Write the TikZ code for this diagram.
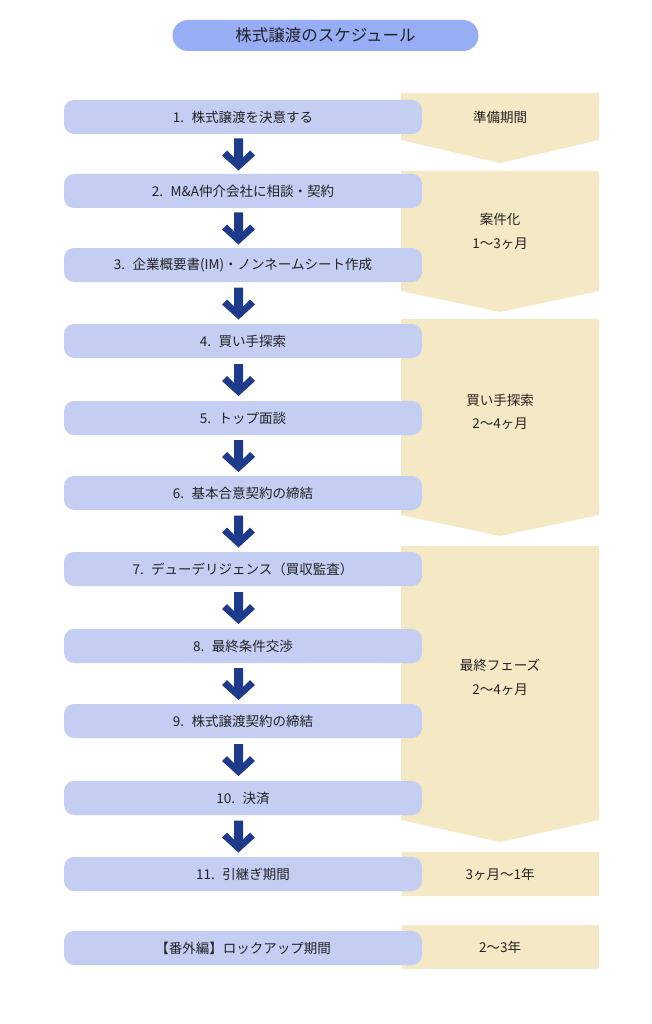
\documentclass[tikz,border=0pt]{standalone}
\usepackage{fontspec}
\setmainfont{Noto Sans CJK JP}
\usetikzlibrary{calc}
\definecolor{boxblue}{HTML}{C4CEF3}
\definecolor{titleblue}{HTML}{97ADF6}
\definecolor{phase}{HTML}{F5E8C4}
\definecolor{arrowblue}{HTML}{1E3A8A}
\definecolor{txt}{HTML}{222222}
\begin{document}
\begin{tikzpicture}[x=1pt,y=-1pt,
  stepbox/.style={fill=boxblue,rounded corners=10pt,minimum width=358pt,minimum height=34pt,inner sep=0pt,text=txt,font=\fontsize{13.5}{16}\selectfont},
  titlebox/.style={fill=titleblue,rounded corners=15.5pt,minimum width=306pt,minimum height=31pt,inner sep=0pt,text=txt,font=\fontsize{16.5}{19}\selectfont},
  phasetext/.style={text=txt,align=center,inner sep=0pt,font=\fontsize{13.5}{23.5}\selectfont},
  phasefill/.style={fill=phase},
  downarrow/.pic={\fill[arrowblue] (-4.5,-15.5) -- (4.5,-15.5) -- (4.5,3.5) -- (11.5,-3.5) -- (16.5,1.5) -- (0,16.5) -- (-16.5,1.5) -- (-11.5,-3.5) -- (-4.5,3.5) -- cycle;}
]
\useasboundingbox (0,0) rectangle (652,1024);
\fill[white] (0,0) rectangle (652,1024);

% phase shapes
\fill[phasefill] (401,93) -- (599,93) -- (599,140) -- (500,163) -- (401,140) -- cycle;
\fill[phasefill] (401,171) -- (599,171) -- (599,291) -- (500,312) -- (401,291) -- cycle;
\fill[phasefill] (401,319) -- (599,319) -- (599,515) -- (500,536) -- (401,515) -- cycle;
\fill[phasefill] (401,546) -- (599,546) -- (599,820) -- (500,842) -- (401,820) -- cycle;
\fill[phasefill] (402,852) rectangle (599,896);
\fill[phasefill] (402,925) rectangle (599,969);

\node[phasetext] (p1) at (500,117) {準備期間};
\node[phasetext] (p2) at (500,231.5) {案件化\\1〜3ヶ月};
\node[phasetext] (p3) at (500,412) {買い手探索\\2〜4ヶ月};
\node[phasetext] (p4) at (500,677.5) {最終フェーズ\\2〜4ヶ月};
\node[phasetext] (p5) at (500,874) {3ヶ月〜1年};
\node[phasetext] (p6) at (500,947) {2〜3年};

% title
\node[titlebox] (title) at (325.5,35.5) {株式譲渡のスケジュール};

% steps
\node[stepbox] (s1) at (243,117) {1.\hspace{0.55em}株式譲渡を決意する};
\node[stepbox] (s2) at (243,191) {2.\hspace{0.55em}M\&A仲介会社に相談・契約};
\node[stepbox] (s3) at (243,265) {3.\hspace{0.55em}企業概要書(IM)・ノンネームシート作成};
\node[stepbox] (s4) at (243,341) {4.\hspace{0.55em}買い手探索};
\node[stepbox] (s5) at (243,418) {5.\hspace{0.55em}トップ面談};
\node[stepbox] (s6) at (243,493) {6.\hspace{0.55em}基本合意契約の締結};
\node[stepbox] (s7) at (243,569) {7.\hspace{0.55em}デューデリジェンス（買収監査）};
\node[stepbox] (s8) at (243,646) {8.\hspace{0.55em}最終条件交渉};
\node[stepbox] (s9) at (243,721) {9.\hspace{0.55em}株式譲渡契約の締結};
\node[stepbox] (s10) at (243,798) {10.\hspace{0.55em}決済};
\node[stepbox] (s11) at (243,874) {11.\hspace{0.55em}引継ぎ期間};
\node[stepbox] (s12) at (243,948) {【番外編】ロックアップ期間};

% arrows
\foreach \a/\b in {s1/s2,s2/s3,s3/s4,s4/s5,s5/s6,s6/s7,s7/s8,s8/s9,s9/s10,s10/s11}{
  \path ($(\a.south)!0.5!(\b.north)+(-4.5,0)$) pic {downarrow};
}
\end{tikzpicture}
\end{document}
